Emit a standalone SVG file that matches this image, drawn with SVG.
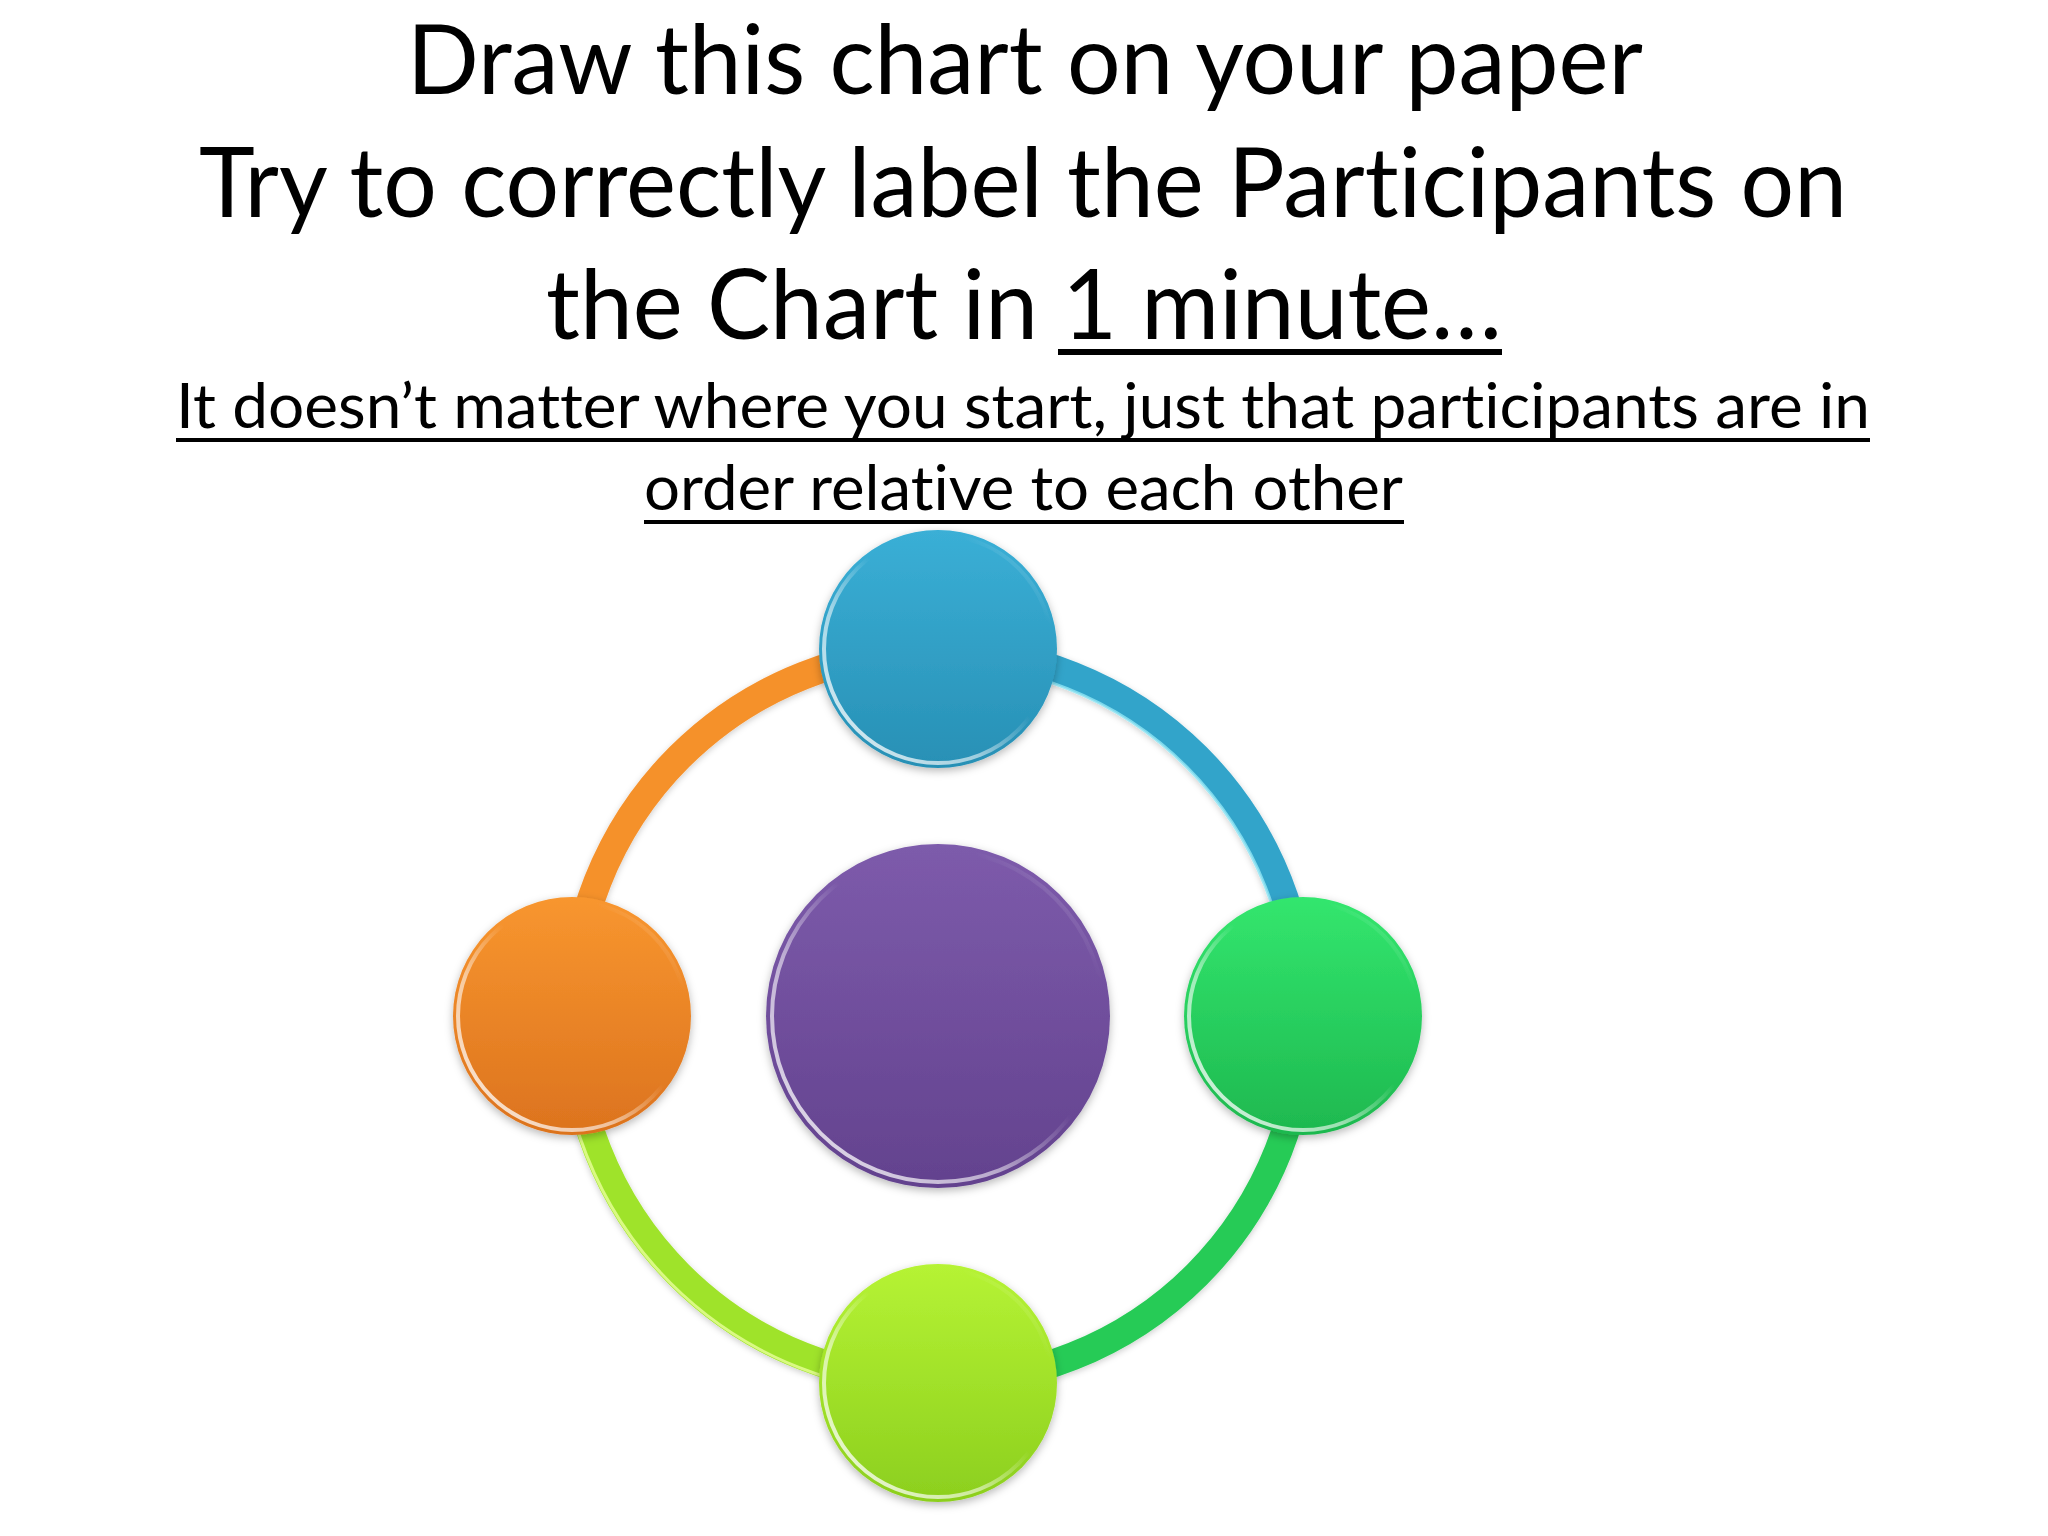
<svg xmlns="http://www.w3.org/2000/svg" width="2048" height="1536" viewBox="0 0 2048 1536">
  <style>
    .t { font-family: Lato, "Open Sans", "Liberation Sans", sans-serif; fill: #000; font-variant-ligatures: none; font-feature-settings: "liga" 0, "dlig" 0; }
    .big { font-size: 96px; }
    .small { font-size: 62px; }
    .ul { stroke: #000; stroke-width: 4; }
    .ulb { stroke: #000; stroke-width: 6; }
    .arc { fill: none; stroke-width: 28; stroke-linecap: butt; }
    .edge { fill: none; stroke-width: 3; }
    .rim { fill: none; stroke: url(#rimG); stroke-width: 4; }
  </style>
  <defs>
    <filter id="sh" x="-20%" y="-20%" width="140%" height="140%">
      <feDropShadow dx="0" dy="3" stdDeviation="4" flood-color="#000" flood-opacity="0.28"/>
    </filter>
    <filter id="shArc" x="-10%" y="-10%" width="120%" height="120%">
      <feDropShadow dx="0" dy="2" stdDeviation="3" flood-color="#000" flood-opacity="0.2"/>
    </filter>
    <linearGradient id="rimG" x1="0" y1="1" x2="1" y2="0">
      <stop offset="0" stop-color="#fff" stop-opacity="0.9"/>
      <stop offset="0.35" stop-color="#fff" stop-opacity="0.55"/>
      <stop offset="0.55" stop-color="#fff" stop-opacity="0"/>
      <stop offset="0.8" stop-color="#fff" stop-opacity="0"/>
      <stop offset="1" stop-color="#fff" stop-opacity="0.35"/>
    </linearGradient>
    <linearGradient id="gBlue" x1="0" y1="0" x2="0" y2="1">
      <stop offset="0" stop-color="#3aafd6"/>
      <stop offset="1" stop-color="#2890b5"/>
    </linearGradient>
    <linearGradient id="gOrange" x1="0" y1="0" x2="0" y2="1">
      <stop offset="0" stop-color="#f8962f"/>
      <stop offset="1" stop-color="#dc731e"/>
    </linearGradient>
    <linearGradient id="gGreen" x1="0" y1="0" x2="0" y2="1">
      <stop offset="0" stop-color="#33e66e"/>
      <stop offset="1" stop-color="#1eb84f"/>
    </linearGradient>
    <linearGradient id="gLime" x1="0" y1="0" x2="0" y2="1">
      <stop offset="0" stop-color="#b6f334"/>
      <stop offset="1" stop-color="#8ccf1e"/>
    </linearGradient>
    <linearGradient id="gPurple" x1="0" y1="0" x2="0" y2="1">
      <stop offset="0" stop-color="#7d5bab"/>
      <stop offset="1" stop-color="#63428e"/>
    </linearGradient>
  </defs>

  <g id="title">
    <text class="t big" x="407" y="94" textLength="1236" lengthAdjust="spacingAndGlyphs">Draw this chart on your paper</text>
    <text class="t big" x="199" y="217" textLength="1648" lengthAdjust="spacingAndGlyphs">Try to correctly label the Participants on</text>
    <text class="t big" x="546" y="339" textLength="956" lengthAdjust="spacingAndGlyphs">the Chart in 1 minute…</text>
    <line class="ulb" x1="1058" y1="352" x2="1502" y2="352"/>
  </g>
  <g id="subtitle">
    <text class="t small" x="176" y="428" textLength="1694" lengthAdjust="spacingAndGlyphs">It doesn’t matter where you start, just that participants are in</text>
    <line class="ul" x1="176" y1="440" x2="1870" y2="440"/>
    <text class="t small" x="644" y="510" textLength="759" lengthAdjust="spacingAndGlyphs">order relative to each other</text>
    <line class="ul" x1="644" y1="522" x2="1404" y2="522"/>
  </g>

  <g id="connectors" filter="url(#shArc)">
    <path class="arc" stroke="#33a4ca" d="M 938 650 A 366 366 0 0 1 1304 1016"/>
    <path class="arc" stroke="#26cb56" d="M 1304 1016 A 366 366 0 0 1 938 1382"/>
    <path class="arc" stroke="#9fe32b" d="M 938 1382 A 366 366 0 0 1 572 1016"/>
    <path class="arc" stroke="#f5912c" d="M 572 1016 A 366 366 0 0 1 938 650"/>
    <path class="edge" stroke="#8fe6f5" stroke-opacity="0.8" d="M 938 664 A 352 352 0 0 1 1290 1016"/>
    <path class="edge" stroke="#e8ff9a" stroke-opacity="0.8" d="M 938 1394 A 378 378 0 0 1 560 1016"/>
  </g>

  <g id="node-center" filter="url(#sh)">
    <circle cx="938" cy="1016" r="172" fill="url(#gPurple)"/>
    <circle class="rim" cx="938" cy="1016" r="166"/>
  </g>
  <g id="node-top" filter="url(#sh)">
    <circle cx="938" cy="649" r="119" fill="url(#gBlue)"/>
    <circle class="rim" cx="938" cy="649" r="114"/>
  </g>
  <g id="node-right" filter="url(#sh)">
    <circle cx="1303" cy="1016" r="119" fill="url(#gGreen)"/>
    <circle class="rim" cx="1303" cy="1016" r="114"/>
  </g>
  <g id="node-bottom" filter="url(#sh)">
    <circle cx="938" cy="1383" r="119" fill="url(#gLime)"/>
    <circle class="rim" cx="938" cy="1383" r="114"/>
  </g>
  <g id="node-left" filter="url(#sh)">
    <circle cx="572" cy="1016" r="119" fill="url(#gOrange)"/>
    <circle class="rim" cx="572" cy="1016" r="114"/>
  </g>
</svg>
